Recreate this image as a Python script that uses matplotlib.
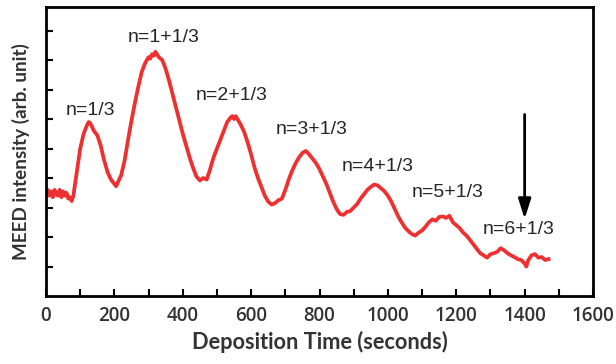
import matplotlib.pyplot as plt
from matplotlib.ticker import MultipleLocator

# MEED intensity trace (time in s, intensity in arb. unit)
time_s = [0, 5, 10, 15, 20, 25, 30, 35, 40, 45, 50, 55, 60, 65, 70, 75, 80,
          90, 100, 110, 120, 125, 130, 140, 150, 160, 170, 180, 190, 200, 205, 210,
          220, 230, 240, 250, 260, 270, 280, 290, 300, 305, 310, 315, 320, 330, 340,
          350, 360, 370, 380, 390, 400, 410, 420, 430, 440, 450, 460, 470,
          480, 490, 500, 510, 520, 530, 540, 545, 550, 555, 560, 570, 580, 590, 600,
          610, 620, 630, 640, 650, 660, 670, 680, 690, 700, 710, 720, 730, 740,
          750, 760, 770, 780, 790, 800, 810, 820, 830, 840, 850, 860, 870, 880,
          890, 900, 910, 920, 930, 940, 950, 960, 970, 980, 990, 1000, 1010,
          1020, 1030, 1040, 1050, 1060, 1070, 1080, 1090, 1100, 1110, 1120, 1130,
          1140, 1150, 1160, 1170, 1180, 1190, 1200, 1210, 1220, 1230, 1240, 1250,
          1260, 1270, 1280, 1290, 1300, 1310, 1320, 1330, 1340, 1350, 1360, 1370,
          1380, 1390, 1400, 1405, 1410, 1420, 1430, 1440, 1450, 1460, 1470]
intensity = [3.45, 3.6, 3.4, 3.55, 3.35, 3.6, 3.45, 3.4, 3.6, 3.35, 3.55, 3.4, 3.5, 3.3, 3.35, 3.22, 3.4,
             4.2, 5.0, 5.5, 5.8, 5.9, 5.85, 5.6, 5.45, 5.1, 4.6, 4.2, 3.95, 3.8, 3.72, 3.85,
             4.1, 4.6, 5.3, 5.95, 6.55, 7.1, 7.6, 7.9, 8.1, 8.05, 8.2, 8.15, 8.28, 8.1, 8.0,
             7.7, 7.3, 6.85, 6.4, 5.95, 5.5, 5.1, 4.7, 4.35, 4.05, 3.92, 4.0, 3.95,
             4.3, 4.7, 5.0, 5.3, 5.6, 5.9, 6.05, 6.1, 6.0, 6.1, 6.0, 5.8, 5.55, 5.2, 4.8,
             4.35, 4.0, 3.7, 3.4, 3.2, 3.1, 3.15, 3.25, 3.3, 3.6, 3.95, 4.25, 4.5, 4.7,
             4.85, 4.92, 4.8, 4.65, 4.5, 4.3, 4.05, 3.8, 3.5, 3.2, 2.95, 2.78, 2.75, 2.85,
             2.88, 3.0, 3.12, 3.3, 3.45, 3.6, 3.7, 3.78, 3.75, 3.65, 3.55, 3.4, 3.2,
             2.95, 2.7, 2.5, 2.32, 2.2, 2.1, 2.05, 2.15, 2.22, 2.35, 2.5, 2.6,
             2.55, 2.68, 2.7, 2.65, 2.72, 2.5, 2.4, 2.3, 2.15, 2.05, 1.9, 1.75,
             1.6, 1.45, 1.38, 1.3, 1.42, 1.45, 1.5, 1.62, 1.55, 1.45, 1.38, 1.32,
             1.25, 1.22, 1.1, 1.0, 1.2, 1.38, 1.42, 1.3, 1.32, 1.22, 1.25]

labels = ['n=1/3', 'n=1+1/3', 'n=2+1/3', 'n=3+1/3', 'n=4+1/3', 'n=5+1/3', 'n=6+1/3']
label_x = [129, 344, 544, 776, 971, 1176, 1381]
label_y = [6.3, 8.77, 6.81, 5.63, 4.38, 3.5, 2.24]

arrow_x = 1400
arrow_top, arrow_tip = 6.25, 2.52

fig = plt.figure(figsize=(6.16, 3.64), dpi=100)
ax = fig.add_axes([0.0747, 0.1868, 0.888, 0.794])

ax.plot(time_s, intensity, color='#ee3030', lw=2.7, solid_joinstyle='round')

for txt, x, y in zip(labels, label_x, label_y):
    ax.text(x, y, txt, ha='center', va='center', fontsize=14,
            family='Liberation Sans', color='#262626')

ax.annotate('', xy=(arrow_x, arrow_tip), xytext=(arrow_x, arrow_top),
            arrowprops=dict(arrowstyle='-|>,head_length=1.2,head_width=0.38',
                            color='black', lw=2))

ax.set_xlim(0, 1600)
ax.set_ylim(0, 9.8)
ax.xaxis.set_major_locator(MultipleLocator(200))
ax.xaxis.set_minor_locator(MultipleLocator(100))
ax.set_yticks(range(1, 10))
ax.set_yticklabels([])
ax.tick_params(direction='in', length=5, width=1.5, which='both', labelsize=13.5, colors='black')
ax.tick_params(axis='x', pad=7)
for lab in ax.get_xticklabels():
    lab.set_family('Open Sans')
    lab.set_fontweight('semibold')
    lab.set_color('#333333')
for s in ax.spines.values():
    s.set_linewidth(2)

ax.set_xlabel('Deposition Time (seconds)', fontsize=15.7, family='Lato', fontweight='bold',
              color='#333333', labelpad=4)
ax.set_ylabel('MEED intensity (arb. unit)', fontsize=13.6, family='Lato', fontweight='bold',
              color='#333333', labelpad=8)

fig.savefig('out.png', dpi=100)
